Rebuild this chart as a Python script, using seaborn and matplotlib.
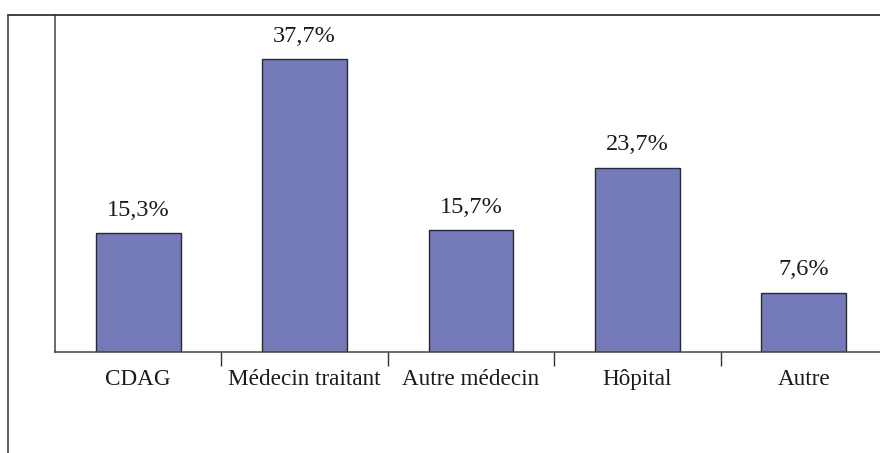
import numpy as np
import pandas as pd
import matplotlib
matplotlib.use("Agg")
import matplotlib.pyplot as plt
from matplotlib.lines import Line2D
import seaborn as sns

# Data
categories = ["CDAG", "Médecin traitant", "Autre médecin", "Hôpital", "Autre"]
values = [15.3, 37.7, 15.7, 23.7, 7.6]
labels = [f"{v:.1f}".replace(".", ",") + "%" for v in values]

df = pd.DataFrame({"source": categories, "pct": values})

sns.set_style("white")
plt.rcParams["font.family"] = ["Liberation Serif", "DejaVu Serif"]

W, H = 880, 453
fig = plt.figure(figsize=(W / 100, H / 100), dpi=100)
ax = fig.add_axes([55 / W, (H - 352) / H, 832 / W, 337 / H])

sns.barplot(data=df, x="source", y="pct", color="#7479B8", saturation=1,
            width=0.51, edgecolor="#2a2a2a", linewidth=1.0, ax=ax)

ax.set_xlim(-0.5, 4.5)
ax.set_ylim(0, 43.4)
ax.set_xlabel("")
ax.set_ylabel("")
ax.set_yticks([])

# labels centred under bars, ticks between categories
ax.tick_params(axis="x", which="major", length=0, labelsize=16.7, pad=12,
               labelcolor="#1a1a1a")
ax.set_xticks(np.arange(len(categories)) + 0.5, minor=True)
ax.tick_params(axis="x", which="minor", bottom=True, length=10, width=1.0,
               color="#333333", direction="out")

ax.bar_label(ax.containers[0], labels=labels, padding=9, fontsize=17.5,
             color="#1a1a1a")

for s in ["top", "right"]:
    ax.spines[s].set_visible(False)
for s in ["left", "bottom"]:
    ax.spines[s].set_color("#444444")
    ax.spines[s].set_linewidth(1.1)

# outer frame lines
fig.add_artist(Line2D([8 / W, 1], [(H - 15) / H, (H - 15) / H],
                      transform=fig.transFigure, color="#333333", lw=1.3))
fig.add_artist(Line2D([8 / W, 8 / W], [0, (H - 15) / H],
                      transform=fig.transFigure, color="#333333", lw=1.1))

fig.savefig("out.png", dpi=100)
